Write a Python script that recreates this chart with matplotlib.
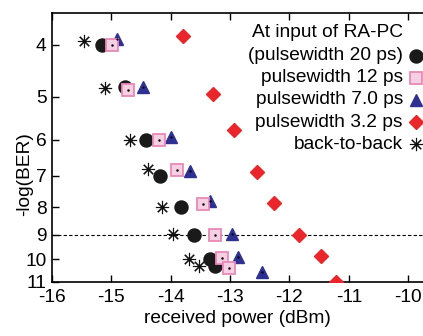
import matplotlib
matplotlib.use("Agg")
import matplotlib.pyplot as plt

plt.rcParams['font.family'] = ['Liberation Sans', 'DejaVu Sans']

# Data (received power dBm, -log(BER))
b2b_x = [-15.46, -15.10, -14.68, -14.39, -14.14, -13.97, -13.69, -13.53]
b2b_y = [3.94, 4.81, 6.01, 6.81, 8.0, 8.99, 10.0, 10.29]

pw20_x = [-15.15, -14.77, -14.42, -14.18, -13.82, -13.61, -13.34, -13.26]
pw20_y = [4.0, 4.8, 6.0, 7.0, 8.0, 9.0, 9.97, 10.27]

pw12_x = [-14.99, -14.72, -14.20, -13.89, -13.45, -13.26, -13.13, -13.02]
pw12_y = [4.0, 4.86, 6.0, 6.83, 7.91, 9.0, 9.95, 10.36]

pw7_x = [-14.91, -14.47, -14.0, -13.68, -13.34, -12.96, -12.86, -12.47]
pw7_y = [3.9, 4.8, 5.93, 6.86, 7.79, 8.97, 9.89, 10.57]

pw32_x = [-13.79, -13.29, -12.93, -12.55, -12.26, -11.84, -11.46, -11.21]
pw32_y = [3.86, 4.93, 5.75, 6.90, 7.86, 9.0, 9.86, 11.03]

x_ticks = [-16, -15, -14, -13, -12, -11, -10]
y_ticks = [4, 5, 6, 7, 8, 9, 10, 11]
ber_threshold = 9

legend_labels = ["At input of RA-PC", "(pulsewidth 20 ps)", "pulsewidth 12 ps",
                 "pulsewidth 7.0 ps", "pulsewidth 3.2 ps", "back-to-back"]

c_circle = '#1a1a1a'
sq_face = '#f5d0e2'
sq_edge = '#e889b8'
c_tri = '#2e3192'
c_dia = '#e8262b'

FS = 13.8

fig = plt.figure(figsize=(4.23, 3.36), dpi=100)
ax = fig.add_axes([52/423, 1 - 281.7/336, 1 - 52/423, (281.7 - 13.3)/336])

ax.axhline(ber_threshold, color='black', linestyle=(0, (3, 2)), linewidth=0.8, zorder=1)

st_circle = dict(marker='o', ms=9.4, mfc=c_circle, mec=c_circle, ls='none')
st_sq = dict(marker='s', ms=8.3, mfc=sq_face, mec=sq_edge, mew=1.3, ls='none')
st_tri = dict(marker='^', ms=9.0, mfc=c_tri, mec=c_tri, ls='none')
st_dia = dict(marker='D', ms=6.8, mfc=c_dia, mec=c_dia, ls='none')
st_star = dict(marker=(8, 2, 0), ms=9.5, mec='#111111', mew=0.8, ls='none')

ax.plot(b2b_x, b2b_y, zorder=3, **st_star)
ax.plot(pw20_x, pw20_y, zorder=3, **st_circle)
ax.plot(pw12_x, pw12_y, zorder=4, **st_sq)
ax.plot(pw12_x, pw12_y, marker='.', ms=1.5, color='black', ls='none', zorder=5)
ax.plot(pw7_x, pw7_y, zorder=3, **st_tri)
ax.plot(pw7_x, pw7_y, marker='.', ms=1.2, color='black', ls='none', zorder=5)
ax.plot(pw32_x, pw32_y, zorder=3, **st_dia)

ax.set_yscale('log')
ax.set_ylim(11, 3.5)
ax.set_xlim(-16, -9.75)
ax.set_yticks(y_ticks)
ax.set_yticklabels([str(t) for t in y_ticks])
ax.minorticks_off()
ax.set_xticks(x_ticks)
ax.set_xticklabels([str(t) for t in x_ticks])

ax.tick_params(axis='both', direction='in', length=5, width=1, labelsize=FS)
ax.tick_params(axis='x', top=True, pad=5)
ax.tick_params(axis='y', pad=4)
ax.spines['right'].set_visible(False)
for s in ['left', 'top', 'bottom']:
    ax.spines[s].set_linewidth(1.2)

ax.set_xlabel('received power (dBm)', fontsize=FS, labelpad=3)
ax.set_ylabel('-log(BER)', fontsize=FS)
ax.yaxis.set_label_coords(-0.051, 0.401)

# Legend (text right aligned, marker at right)
ys = [0.928, 0.841, 0.759, 0.677, 0.595, 0.513]
xt = 0.946
xm = 0.980
styles = [None, st_circle, st_sq, st_tri, st_dia, st_star]
for lab, yy, stl in zip(legend_labels, ys, styles):
    ax.text(xt, yy, lab, transform=ax.transAxes, ha='right', va='center', fontsize=FS)
    if stl is not None:
        ax.plot([xm], [yy], transform=ax.transAxes, clip_on=False, zorder=6, **stl)

fig.savefig('out.png', dpi=100)
